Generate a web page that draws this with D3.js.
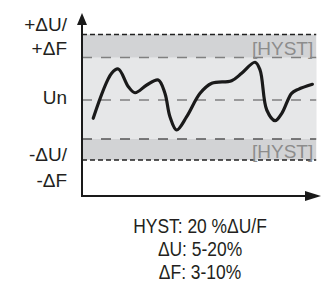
<!DOCTYPE html>
<html>
<head>
<meta charset="utf-8">
<script src="https://cdn.jsdelivr.net/npm/d3@7"></script>
<style>
  body { margin: 0; background: #fff; }
  text { font-family: "Liberation Sans", Arial, sans-serif; }
</style>
</head>
<body>
<div id="viz"></div>
<script>
// Data (level: 0 = Un, +/-10 = limit, +/-6.5 = hysteresis edge)
const curveT = [4.7, 12.4, 15.2, 19.4, 22.2, 27.1, 31.9, 34.7, 36.8, 39.6, 43.8, 49.4,
                54.3, 62.6, 66.8, 72.4, 74.5, 77.3, 80.8, 83.6, 87.7, 90.5, 96.4];
const curveV = [-3.05, 4.08, 4.73, 2.03, 1.11, 2.29, 3.05, 1.02, -2.78, -5.0, -2.78, 1.02,
                2.55, 2.95, 4.08, 5.76, 4.58, -1.67, -3.45, -2.22, 1.02, 1.63, 2.40];
const LIMIT = 10, HYST = 6.5, UN = 0, BAND_END = 98;
const leftLabels = [["+ΔU/", "+ΔF"], ["Un"], ["-ΔU/", "-ΔF"]];
const hystLabel = "[HYST]";
const footLines = ["HYST: 20 %ΔU/F", "ΔU: 5-20%", "ΔF: 3-10%"];

const width = 322, height = 284;
const svg = d3.select("#viz").append("svg").attr("width", width).attr("height", height);

const x = d3.scaleLinear().domain([0, 100]).range([82, 321]);
const y = d3.scaleLinear().domain([-16, -LIMIT, UN, LIMIT, 13.3]).range([196, 160, 100, 34.5, 13]);

// bands
svg.append("rect").attr("x", x(0)).attr("y", y(LIMIT)).attr("width", x(BAND_END) - x(0))
   .attr("height", y(-LIMIT) - y(LIMIT)).attr("fill", "#d2d3d5");
svg.append("rect").attr("x", x(0)).attr("y", y(HYST)).attr("width", x(BAND_END) - x(0))
   .attr("height", y(-HYST) - y(HYST)).attr("fill", "#e6e7e8");

// dashed lines
function hline(v, color, dash) {
  svg.append("line").attr("x1", x(0)).attr("x2", x(BAND_END)).attr("y1", y(v)).attr("y2", y(v))
     .attr("stroke", color).attr("stroke-width", 1.5).attr("stroke-dasharray", dash);
}
hline(LIMIT, "#222", "5,3");
hline(-LIMIT, "#222", "5,3");
hline(HYST, "#808080", "10,9");
hline(UN, "#808080", "10,9");
hline(-HYST, "#555", "10,9");

// hyst labels
const hl = svg.append("g").attr("text-anchor", "end").attr("font-size", 19).attr("fill", "#8c8c8c");
hl.append("text").attr("x", x(BAND_END) - 3).attr("y", y(HYST) - 2).text(hystLabel);
hl.append("text").attr("x", x(BAND_END) - 3).attr("y", y(-LIMIT) - 2).text(hystLabel);

// curve
const line = d3.line().x((d, i) => x(curveT[i])).y(d => y(d)).curve(d3.curveCatmullRom.alpha(0.5));
svg.append("path").attr("d", line(curveV)).attr("fill", "none").attr("stroke", "#1a1a1a")
   .attr("stroke-width", 3.2).attr("stroke-linecap", "round").attr("stroke-linejoin", "round");

// axes
svg.append("line").attr("x1", x(0)).attr("x2", x(0)).attr("y1", y(-16)).attr("y2", y(13.3) + 8)
   .attr("stroke", "#1a1a1a").attr("stroke-width", 2);
svg.append("line").attr("x1", x(0) - 1).attr("x2", x(100) - 10).attr("y1", y(-16)).attr("y2", y(-16))
   .attr("stroke", "#1a1a1a").attr("stroke-width", 2);
svg.append("path").attr("fill", "#1a1a1a")
   .attr("d", `M${x(0)},${y(13.3)} L${x(0) - 5},${y(13.3) + 12} L${x(0) + 5},${y(13.3) + 12} Z`);
svg.append("path").attr("fill", "#1a1a1a")
   .attr("d", `M${x(100)},${y(-16)} L${x(100) - 16},${y(-16) - 5} L${x(100) - 16},${y(-16) + 5} Z`);

// left labels
const lab = svg.append("g").attr("font-size", 19).attr("fill", "#231f20").attr("text-anchor", "end");
lab.append("text").attr("x", 67).attr("y", y(LIMIT) - 3.5).text(leftLabels[0][0]);
lab.append("text").attr("x", 67).attr("y", y(LIMIT) + 20.5).text(leftLabels[0][1]);
lab.append("text").attr("x", 67).attr("y", y(UN) + 3.5).text(leftLabels[1][0]);
lab.append("text").attr("x", 67).attr("y", y(-LIMIT) + 1).text(leftLabels[2][0]);
lab.append("text").attr("x", 67).attr("y", y(-LIMIT) + 27).text(leftLabels[2][1]);

// footnote
footLines.forEach((t, i) => {
  svg.append("text").attr("transform", `translate(200,${233 + i * 23}) scale(0.83,1)`)
     .attr("text-anchor", "middle").attr("font-size", 21).attr("fill", "#231f20").text(t);
});
</script>
</body>
</html>
